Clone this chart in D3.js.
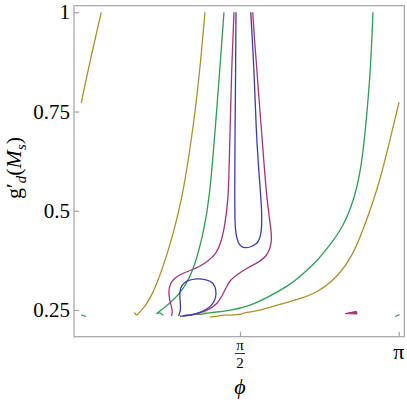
<!DOCTYPE html>
<html>
<head>
<meta charset="utf-8">
<script src="https://cdn.jsdelivr.net/npm/d3@7"></script>
</head>
<body style="margin:0">
<svg id="chart" width="407" height="403"></svg>
<script>
// contour lines, [phi, g'_d(M_s)]
const goldTopLeft = [[0.0, 0.772], [0.047, 0.830], [0.096, 0.887], [0.146, 0.943], [0.198, 1.0]]
const goldLeft = [[0.525, 0.2437], [0.548, 0.2336], [0.586, 0.2475], [0.614, 0.2543], [0.697, 0.2835],
    [0.812, 0.3591], [0.911, 0.4432], [0.994, 0.5271], [1.076, 0.6531], [1.142, 0.7791], [1.192, 0.9051], [1.224, 1.0]]
const goldRight = [[3.145, 0.7733], [3.055, 0.6783], [2.957, 0.5775], [2.877, 0.5145], [2.788, 0.4516],
    [2.689, 0.3886], [2.531, 0.3306], [2.313, 0.2903], [2.165, 0.2795], [2.033, 0.2684], [1.868, 0.2568],
    [1.702, 0.2457], [1.620, 0.2437], [1.571, 0.2379], [1.538, 0.2392], [1.472, 0.2361], [1.432, 0.2384],
    [1.373, 0.2349], [1.274, 0.2324]]
const greenLeft = [[1.412, 1.0], [1.373, 0.863], [1.323, 0.695], [1.267, 0.527], [1.214, 0.4516],
    [1.125, 0.3591], [1.010, 0.3004], [0.878, 0.2669], [0.799, 0.2513], [0.729, 0.2374], [0.772, 0.2457], [0.812, 0.2361]]
const greenRight = [[2.887, 1.0], [2.865, 0.863], [2.825, 0.737], [2.775, 0.611], [2.700, 0.527],
    [2.590, 0.4591], [2.462, 0.4138], [2.343, 0.376], [2.214, 0.3457], [2.066, 0.313], [1.868, 0.2853],
    [1.670, 0.2601], [1.472, 0.2487], [1.304, 0.2437], [1.224, 0.2424], [1.175, 0.2374], [1.135, 0.2412],
    [1.076, 0.2354], [1.036, 0.2379], [1.007, 0.2341]]
const greenDashLeft = [[0.0, 0.2374], [0.047, 0.2336]]
const greenDashRight = [[3.105, 0.2336], [3.150, 0.2384]]
const magentaLeft = [[1.511, 1.0], [1.497, 0.905], [1.489, 0.863], [1.472, 0.695], [1.460, 0.5775],
    [1.452, 0.527], [1.422, 0.4642], [1.383, 0.4188], [1.333, 0.3911], [1.254, 0.3735], [1.175, 0.3596],
    [1.076, 0.3495], [0.977, 0.3394], [0.918, 0.3294], [0.878, 0.3155], [0.863, 0.2979], [0.873, 0.2752],
    [0.893, 0.2576], [0.903, 0.245], [0.893, 0.2349]]
const magentaRight = [[1.697, 1.0], [1.714, 0.9303], [1.736, 0.863], [1.759, 0.7791], [1.786, 0.6952],
    [1.808, 0.6196], [1.835, 0.5355], [1.858, 0.4894], [1.878, 0.4516], [1.885, 0.4264], [1.868, 0.4037],
    [1.835, 0.3873], [1.779, 0.3747], [1.736, 0.3677], [1.637, 0.3551], [1.538, 0.3382], [1.472, 0.3256],
    [1.432, 0.3054], [1.393, 0.2853], [1.343, 0.2651], [1.274, 0.2525], [1.175, 0.2417], [1.076, 0.2366], [1.007, 0.2349]]
const magentaBlob = [[2.610, 0.2409], [2.724, 0.2467], [2.729, 0.2399]]
const blueTop = [[1.531, 1.0], [1.528, 0.863], [1.521, 0.6952], [1.518, 0.5271], [1.521, 0.4642],
    [1.531, 0.439], [1.554, 0.4181], [1.581, 0.41], [1.620, 0.4055], [1.687, 0.4095], [1.729, 0.4163],
    [1.752, 0.4221], [1.774, 0.4364], [1.786, 0.4566], [1.786, 0.502], [1.776, 0.5355], [1.752, 0.6196],
    [1.732, 0.6952], [1.709, 0.863], [1.677, 1.0]]
const blueLoop = [[0.962, 0.2349], [0.987, 0.25], [0.977, 0.2752], [0.972, 0.2954], [0.992, 0.313],
    [1.046, 0.3243], [1.142, 0.3299], [1.241, 0.3268], [1.307, 0.3193], [1.336, 0.3004], [1.333, 0.2802],
    [1.294, 0.2613], [1.224, 0.2487], [1.135, 0.2404], [1.036, 0.2361], [0.977, 0.2341]]

const yTicks = [0.25, 0.5, 0.75, 1]
const yTickLabels = ['0.25', '0.5', '0.75', '1']
const xTicks = [Math.PI / 2, Math.PI]

const colors = {
    gold: '#a8922e',
    green: '#2f9d56',
    magenta: '#a5347b',
    blue: '#3b3bab'
}

const svg = d3.select('#chart')

const x = d3.scaleLinear().domain([-0.0723, 3.197]).range([74, 404.3])
const y = d3.scaleLinear().domain([0.1827, 1.0166]).range([336.7, 5.7])

const frameColor = '#a3a3a3'

// small helper: every label goes through here so the font is set on the text itself
function label(parent, tx, ty, str, size) {
    return parent.append('text')
        .attr('x', tx).attr('y', ty)
        .attr('font-family', 'Liberation Serif')
        .attr('font-size', size)
        .attr('fill', '#000')
        .text(str)
}

// frame
svg.append('rect')
    .attr('x', x.range()[0])
    .attr('y', y.range()[1])
    .attr('width', x.range()[1] - x.range()[0])
    .attr('height', y.range()[0] - y.range()[1])
    .attr('fill', 'none')
    .attr('stroke', frameColor)
    .attr('stroke-width', 1.2)

// y axis: ticks from d3, inward
const gy = svg.append('g')
    .attr('transform', `translate(${x.range()[0]},0)`)
    .call(d3.axisLeft(y).tickValues(yTicks).tickSize(-5).tickFormat(''))
gy.select('.domain').remove()
gy.selectAll('line').attr('stroke', frameColor).attr('stroke-width', 1.2)

yTicks.forEach((v, i) => {
    label(svg, 70, y(v) + 7, yTickLabels[i], 21).attr('text-anchor', 'end')
})

// x axis ticks
const gx = svg.append('g')
    .attr('transform', `translate(0,${y.range()[0]})`)
    .call(d3.axisBottom(x).tickValues(xTicks).tickSize(-5).tickFormat(''))
gx.select('.domain').remove()
gx.selectAll('line').attr('stroke', frameColor).attr('stroke-width', 1.2)

// pi/2 as a stacked fraction
const fx = x(xTicks[0])
label(svg, fx, 350, 'π', 15).attr('text-anchor', 'middle')
svg.append('line')
    .attr('x1', fx - 5).attr('x2', fx + 5)
    .attr('y1', 353.5).attr('y2', 353.5)
    .attr('stroke', '#000').attr('stroke-width', 0.8)
label(svg, fx, 367.5, '2', 15).attr('text-anchor', 'middle')

// pi
label(svg, x(xTicks[1]), 359, 'π', 22).attr('text-anchor', 'middle')

// axis titles
label(svg, fx, 394, 'ϕ', 22).attr('text-anchor', 'middle').attr('font-style', 'italic')

const ylab = label(svg, 0, 0, null, 22)
    .attr('transform', 'translate(21,168) rotate(-90)')
    .attr('text-anchor', 'middle')
ylab.append('tspan').text('g′')
ylab.append('tspan').attr('dy', 5).attr('font-size', 15).attr('font-style', 'italic').text('d')
ylab.append('tspan').attr('dy', -5).text('(')
ylab.append('tspan').attr('font-style', 'italic').text('M')
ylab.append('tspan').attr('dy', 5).attr('font-size', 15).attr('font-style', 'italic').text('s')
ylab.append('tspan').attr('dy', -5).text(')')

// contours, smoothed through the read points
const line = d3.line()
    .x(d => x(d[0]))
    .y(d => y(d[1]))
    .curve(d3.curveBasis)

const contours = [
    { pts: goldTopLeft, c: 'gold' },
    { pts: goldLeft, c: 'gold' },
    { pts: goldRight, c: 'gold' },
    { pts: greenLeft, c: 'green' },
    { pts: greenRight, c: 'green' },
    { pts: greenDashLeft, c: 'green' },
    { pts: greenDashRight, c: 'green' },
    { pts: magentaLeft, c: 'magenta' },
    { pts: magentaRight, c: 'magenta' },
    { pts: blueTop, c: 'blue' },
    { pts: blueLoop, c: 'blue' }
]

svg.append('g')
    .selectAll('path')
    .data(contours)
    .join('path')
    .attr('d', d => line(d.pts))
    .attr('fill', 'none')
    .attr('stroke', d => colors[d.c])
    .attr('stroke-width', 1.3)
    .attr('stroke-linejoin', 'round')

svg.append('path')
    .attr('d', d3.line().x(d => x(d[0])).y(d => y(d[1]))(magentaBlob) + 'Z')
    .attr('fill', colors.magenta)
    .attr('stroke', colors.magenta)
    .attr('stroke-width', 1)
</script>
</body>
</html>
